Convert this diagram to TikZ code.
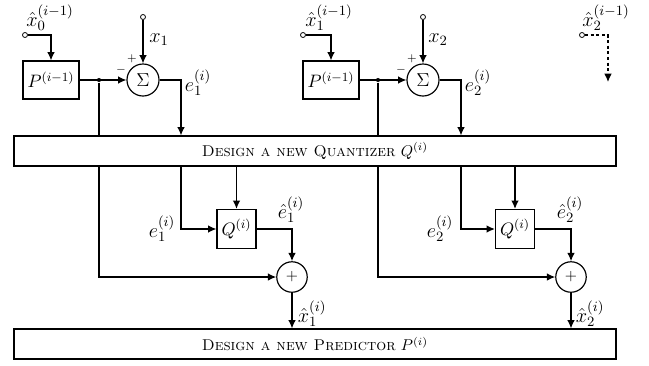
\RequirePackage{fix-cm}
\documentclass[tikz,border=0pt]{standalone}
\usetikzlibrary{arrows.meta,calc}
\begin{document}
\begin{tikzpicture}[x=0.64pt,y=-0.64pt,
  line width=0.75pt,
  arr/.style={-{Latex[length=5.3pt,width=4.8pt]}},
  boxfont/.style={font=\fontsize{11.5}{14}\selectfont},
  pblk/.style={draw, boxfont, minimum width=35.8pt, minimum height=24.3pt, inner sep=0pt},
  qblk/.style={draw, boxfont, minimum width=25pt, minimum height=25pt, inner sep=0pt},
  sumc/.style={draw, circle, font=\fontsize{12}{14}\selectfont, minimum size=20.5pt, inner sep=0pt},
  addc/.style={draw, circle, minimum size=19.5pt, inner sep=0pt},
  wide/.style={draw, minimum width=385.3pt, minimum height=19.2pt, inner sep=0pt},
  port/.style={draw, circle, minimum size=3.2pt, inner sep=0pt, line width=0.5pt, fill=white},
  dot/.style={circle, fill, minimum size=2.6pt, inner sep=0pt},
  sgn/.style={font=\scriptsize, inner sep=0pt},
  lbl/.style={inner sep=0pt, font=\fontsize{13}{15}\selectfont},
  dsh/.style={dash pattern=on 2pt off 1.6pt},
]
\useasboundingbox (0,0) rectangle (649,365);

% wide blocks
\node[wide] (DQ) at (315,151) {\textsc{Design a new Quantizer} $Q^{(i)}$};
\node[wide] (DP) at (315,344) {\textsc{Design a new Predictor} $P^{(i)}$};

% ---------- stage 1 ----------
\node[port] (in0) at (25,35) {};
\node[port] (x1in) at (143,17) {};
\node[pblk] (P1) at (51,80) {$P^{(i-1)}$};
\node[sumc] (S1) at (143,80) {$\Sigma$};
\node[dot] (d1) at (99,80) {};
\coordinate (c1) at (181,0);
\node[qblk] (Q1) at (236.5,229) {$Q^{(i)}$};
\node[addc] (A1) at (292,277) {$+$};

\draw[arr] (in0) -| (P1);
\draw[arr] (x1in) -- (S1);
\draw[arr] (P1) -- (S1);
\draw[arr] (S1) -| (c1 |- DQ.north);
\draw (d1) -- (d1 |- DQ.north);
\draw[arr] (d1 |- DQ.south) |- (A1);
\draw[arr] (c1 |- DQ.south) |- (Q1);
\draw[arr] (Q1 |- DQ.south) -- (Q1);
\draw[arr] (Q1) -| (A1);
\draw[arr] (A1) -- (A1 |- DP.north);

\node[sgn] (p1) at (132,59) {$+$};
\node[sgn] (m1) at (121,70) {$-$};

\node[lbl] (lx0) at (50,18) {$\hat{x}_0^{(i-1)}$};
\node[lbl] (lx1) at (159,40) {$x_1$};
\node[lbl] (le1) at (198,83) {$e_1^{(i)}$};
\node[lbl] (le1b) at (162,229) {$e_1^{(i)}$};
\node[lbl] (lhe1) at (291,210) {$\hat{e}_1^{(i)}$};
\node[lbl] (lhx1) at (312,314) {$\hat{x}_1^{(i)}$};

% ---------- stage 2 ----------
\node[port] (in1) at (303,35) {};
\node[port] (x2in) at (423,17) {};
\node[pblk] (P2) at (331,80) {$P^{(i-1)}$};
\node[sumc] (S2) at (423,80) {$\Sigma$};
\node[dot] (d2) at (378,80) {};
\coordinate (c2) at (461,0);
\node[qblk] (Q2) at (515,229) {$Q^{(i)}$};
\node[addc] (A2) at (571,277) {$+$};

\draw[arr] (in1) -| (P2);
\draw[arr] (x2in) -- (S2);
\draw[arr] (P2) -- (S2);
\draw[arr] (S2) -| (c2 |- DQ.north);
\draw (d2) -- (d2 |- DQ.north);
\draw[arr] (d2 |- DQ.south) |- (A2);
\draw[arr] (c2 |- DQ.south) |- (Q2);
\draw[arr] (Q2 |- DQ.south) -- (Q2);
\draw[arr] (Q2) -| (A2);
\draw[arr] (A2) -- (A2 |- DP.north);

\node[sgn] (p2) at (412,59) {$+$};
\node[sgn] (m2) at (401,70) {$-$};

\node[lbl] (lx1b) at (329,18) {$\hat{x}_1^{(i-1)}$};
\node[lbl] (lx2) at (438,40) {$x_2$};
\node[lbl] (le2) at (478,83) {$e_2^{(i)}$};
\node[lbl] (le2b) at (440,229) {$e_2^{(i)}$};
\node[lbl] (lhe2) at (570,210) {$\hat{e}_2^{(i)}$};
\node[lbl] (lhx2) at (590,314) {$\hat{x}_2^{(i)}$};

% ---------- stage 3 (dashed) ----------
\node[port] (in2) at (582,35) {};
\coordinate (e3) at (608,82);
\draw[arr, dsh] (in2) -| (e3);
\node[lbl] (lx2b) at (606,18) {$\hat{x}_2^{(i-1)}$};
\end{tikzpicture}
\end{document}
